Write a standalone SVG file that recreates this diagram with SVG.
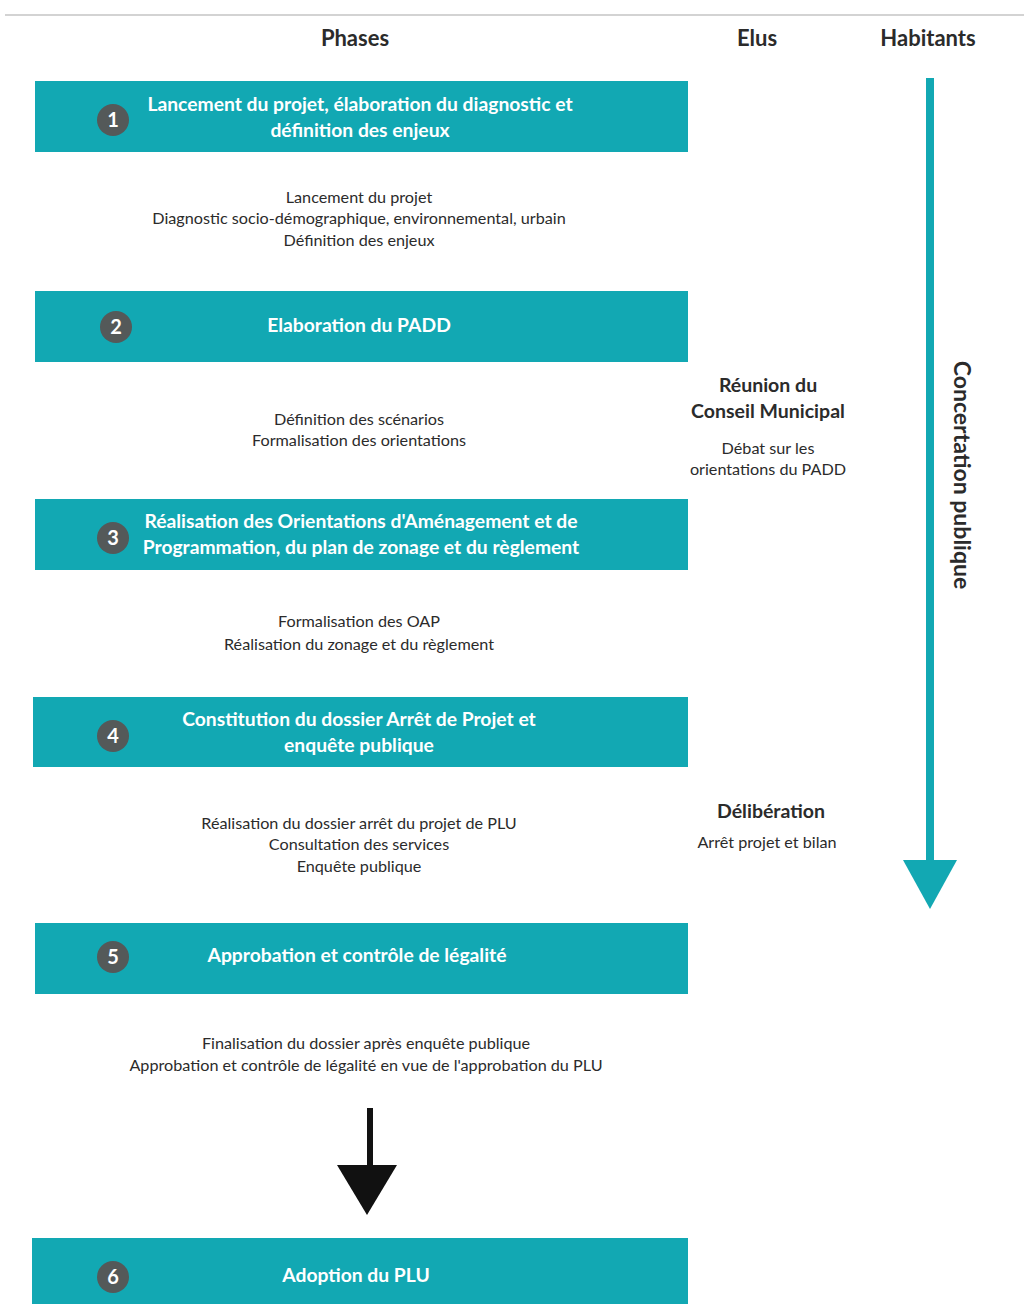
<svg xmlns="http://www.w3.org/2000/svg" width="1024" height="1304" viewBox="0 0 1024 1304">
<style>
.box{fill:#12a8b3}
.num{fill:#545959}
.numt{font-family:Lato,"Open Sans",sans-serif;font-weight:700;font-size:20px;fill:#fff;text-anchor:middle}
.bt{font-family:Lato,"Open Sans",sans-serif;font-weight:700;font-size:19.3px;fill:#fff;text-anchor:middle}
.hd{font-family:Lato,"Open Sans",sans-serif;font-weight:700;font-size:22px;fill:#2b2b2b;text-anchor:middle}
.body{font-family:Lato,"Open Sans",sans-serif;font-size:16.2px;fill:#2b2b2b;text-anchor:middle}
.el{font-family:Lato,"Open Sans",sans-serif;font-weight:700;font-size:19.5px;fill:#2b2b2b;text-anchor:middle}
</style>
<rect width="1024" height="1304" fill="#fff"/>
<line x1="5" y1="15" x2="1024" y2="15" stroke="#c4c4c4" stroke-width="1.5"/>
<g id="headers">
<text class="hd" x="355" y="46">Phases</text>
<text class="hd" x="757" y="46">Elus</text>
<text class="hd" x="928" y="46">Habitants</text>
</g>
<g id="phase1">
<rect class="box" x="35" y="81" width="653" height="71"/>
<circle class="num" cx="113" cy="120" r="16"/>
<text class="numt" x="113" y="127">1</text>
<text class="bt" x="360" y="111">Lancement du projet, élaboration du diagnostic et</text>
<text class="bt" x="360" y="137">définition des enjeux</text>
</g>
<g id="body1">
<text class="body" x="359" y="203">Lancement du projet</text>
<text class="body" x="359" y="224">Diagnostic socio-démographique, environnemental, urbain</text>
<text class="body" x="359" y="246">Définition des enjeux</text>
</g>
<g id="phase2">
<rect class="box" x="35" y="291" width="653" height="71"/>
<circle class="num" cx="116" cy="327" r="16"/>
<text class="numt" x="116" y="334">2</text>
<text class="bt" x="359" y="332">Elaboration du PADD</text>
</g>
<g id="body2">
<text class="body" x="359" y="425">Définition des scénarios</text>
<text class="body" x="359" y="446">Formalisation des orientations</text>
</g>
<g id="elus1">
<text class="el" x="768" y="392">Réunion du</text>
<text class="el" x="768" y="418">Conseil Municipal</text>
<text class="body" x="768" y="454">Débat sur les</text>
<text class="body" x="768" y="475">orientations du PADD</text>
</g>
<g id="phase3">
<rect class="box" x="35" y="499" width="653" height="71"/>
<circle class="num" cx="113" cy="538" r="16"/>
<text class="numt" x="113" y="545">3</text>
<text class="bt" x="361" y="528">Réalisation des Orientations d'Aménagement et de</text>
<text class="bt" x="361" y="554">Programmation, du plan de zonage et du règlement</text>
</g>
<g id="body3">
<text class="body" x="359" y="627">Formalisation des OAP</text>
<text class="body" x="359" y="650">Réalisation du zonage et du règlement</text>
</g>
<g id="phase4">
<rect class="box" x="33" y="697" width="655" height="70"/>
<circle class="num" cx="113" cy="736" r="16"/>
<text class="numt" x="113" y="743">4</text>
<text class="bt" x="359" y="726">Constitution du dossier Arrêt de Projet et</text>
<text class="bt" x="359" y="752">enquête publique</text>
</g>
<g id="body4">
<text class="body" x="359" y="829">Réalisation du dossier arrêt du projet de PLU</text>
<text class="body" x="359" y="850">Consultation des services</text>
<text class="body" x="359" y="872">Enquête publique</text>
</g>
<g id="elus2">
<text class="el" x="771" y="818">Délibération</text>
<text class="body" x="767" y="848">Arrêt projet et bilan</text>
</g>
<g id="phase5">
<rect class="box" x="35" y="923" width="653" height="71"/>
<circle class="num" cx="113" cy="957" r="16"/>
<text class="numt" x="113" y="964">5</text>
<text class="bt" x="357" y="962">Approbation et contrôle de légalité</text>
</g>
<g id="body5">
<text class="body" x="366" y="1049">Finalisation du dossier après enquête publique</text>
<text class="body" x="366" y="1071">Approbation et contrôle de légalité en vue de l'approbation du PLU</text>
</g>
<g id="phase6">
<rect class="box" x="32" y="1238" width="656" height="70"/>
<circle class="num" cx="113" cy="1277" r="16"/>
<text class="numt" x="113" y="1284">6</text>
<text class="bt" x="356" y="1282">Adoption du PLU</text>
</g>
<g id="connectors">
<line x1="930" y1="78" x2="930" y2="862" stroke="#12a8b3" stroke-width="8"/>
<polygon points="903,860 957,860 930,909" fill="#12a8b3"/>
<line x1="370" y1="1108" x2="370" y2="1167" stroke="#111" stroke-width="6"/>
<polygon points="337,1165 397,1165 367,1215" fill="#111"/>
</g>
<g id="concertation">
<text class="hd" style="font-size:23px" transform="translate(954,475) rotate(90)" x="0" y="0">Concertation publique</text>
</g>
</svg>
